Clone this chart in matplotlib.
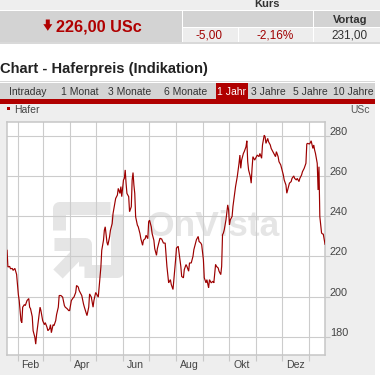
import numpy as np
import matplotlib
matplotlib.use("Agg")
import matplotlib.pyplot as plt
import matplotlib.dates as mdates
from matplotlib.patches import Rectangle, Polygon
from matplotlib.lines import Line2D
from matplotlib.transforms import Affine2D

# ---------------------------------------------------------------- data
start_date = np.datetime64("2013-01-01")

# calendar days after 1 Jan and oat price (US cents per bushel)
day_offsets = [
    18, 19, 21, 22, 24, 25, 27, 29, 31, 32, 34, 35, 36, 38, 39, 41, 43, 44, 45, 47,
    48, 50, 51, 52, 54, 56, 57, 59, 61, 62, 64, 65, 67, 68, 69, 71, 72, 74, 75, 77,
    78, 80, 82, 84, 85, 87, 89, 90, 92, 94, 95, 97, 98, 100, 101, 103, 104, 106, 107, 109,
    110, 112, 113, 115, 117, 118, 120, 121, 123, 124, 126, 127, 129, 130, 131, 133, 134, 136, 137, 139,
    140, 142, 143, 145, 146, 148, 149, 150, 152, 153, 154, 155, 156, 158, 159, 161, 162, 163, 164, 165,
    166, 168, 169, 171, 172, 174, 175, 177, 178, 180, 181, 182, 184, 185, 187, 188, 190, 191, 193,
    194, 196, 198, 200, 202, 203, 204, 206, 207, 209, 210, 212, 213, 215, 216, 218, 219, 221, 222, 224,
    225, 227, 228, 230, 232, 233, 235, 236, 238, 239, 241, 242, 244, 245, 247, 248, 250, 251, 253, 255,
    256, 258, 259, 261, 262, 264, 265, 266, 267, 268, 270, 272, 273, 274, 275, 277, 278, 280, 281, 283,
    285, 286, 287, 288, 289, 290, 291, 293, 294, 295, 296, 298, 299, 300, 301, 303, 305, 306, 308, 309,
    311, 312, 314, 315, 316, 318, 319, 321, 322, 324, 325, 327, 328, 330, 331, 333, 334, 336, 337, 339,
    340, 342, 343, 345, 346, 348, 349, 351, 352, 354, 355, 357, 358, 360, 362, 363, 364, 366, 367, 368,
    370, 371, 372, 373, 375, 376, 377, 378, 380, 381, 382, 384,
]
hafer_usc = [
    223.0, 214.7, 215.0, 213.8, 214.0, 213.0, 214.0, 211.0, 201.0, 198.0, 188.0, 187.0, 194.7, 196.0, 195.5, 198.0, 199.0, 194.7, 194.0, 190.0,
    183.0, 179.7, 176.3, 181.0, 188.0, 194.7, 193.0, 188.0, 186.0, 187.0, 184.7, 183.0, 184.0, 186.0, 182.0, 186.0, 185.5, 188.0, 191.0, 194.7,
    200.5, 200.5, 199.7, 195.5, 194.7, 194.0, 193.0, 193.0, 198.0, 199.3, 199.7, 202.0, 205.5, 204.7, 203.0, 201.3, 200.5, 196.3, 194.7, 192.0,
    190.5, 194.7, 201.3, 199.7, 194.7, 198.0, 202.0, 201.3, 199.7, 204.7, 214.7, 223.0, 228.0, 233.0, 234.7, 227.0, 225.5, 229.7, 233.0, 236.3,
    241.3, 246.3, 248.8, 250.5, 253.8, 251.3, 254.7, 249.7, 258.0, 258.8, 263.0, 256.3, 251.3, 249.7, 242.2, 244.7, 258.0, 261.7, 255.5, 251.3,
    239.7, 235.5, 234.7, 231.3, 228.8, 225.5, 228.0, 228.8, 230.5, 228.8, 237.2, 238.0, 234.7, 231.3, 228.0, 223.8, 220.5, 223.8, 227.2,
    229.0, 228.6, 226.6, 226.6, 215.0, 211.0, 206.8, 208.4, 206.0, 203.5, 208.4, 218.3, 224.1, 225.0, 221.7, 215.0, 210.0, 209.3, 213.4, 215.9,
    215.0, 212.6, 216.7, 216.7, 220.0, 223.3, 226.6, 228.3, 229.9, 227.4, 226.6, 225.8, 218.3, 209.3, 206.8, 208.4, 204.3, 208.4, 206.8, 207.6,
    206.8, 215.9, 215.0, 214.2, 212.6, 210.9, 215.0, 230.7, 231.6, 233.2, 238.2, 245.6, 243.1, 235.7, 238.2, 239.8, 244.8, 251.4, 254.7, 259.7,
    266.3, 270.4, 263.8, 267.9, 269.6, 271.2, 272.1, 274.5, 277.5, 267.1, 263.0, 259.7, 256.4, 263.8, 269.6, 267.9, 269.6, 270.4, 269.6, 271.2,
    268.8, 275.4, 280.3, 279.5, 276.2, 278.7, 277.0, 275.4, 273.7, 272.1, 271.2, 269.6, 272.1, 269.6, 267.1, 265.5, 263.8, 260.5, 258.0, 255.5,
    251.4, 254.7, 256.4, 257.2, 258.8, 260.0, 258.8, 258.0, 258.8, 257.2, 258.8, 260.5, 262.1, 263.8, 266.3, 275.9, 276.2, 275.9, 276.5, 277.5,
    273.7, 275.4, 272.9, 271.2, 266.3, 253.0, 264.6, 239.8, 231.6, 231.2, 231.0, 226.0,
]

y_ticks = [180, 200, 220, 240, 260, 280]
month_names = ["Jan", "Feb", "Mär", "Apr", "Mai", "Jun",
               "Jul", "Aug", "Sep", "Okt", "Nov", "Dez"]
labelled_months = ["Feb", "Apr", "Jun", "Aug", "Okt", "Dez"]

tab_names = ["Intraday", "1 Monat", "3 Monate", "6 Monate",
             "1 Jahr", "3 Jahre", "5 Jahre", "10 Jahre"]
active_tab = "1 Jahr"

series_name = "Hafer"
unit = "USc"
title = "Chart - Haferpreis (Indikation)"
last_price = hafer_usc[-1]
prev_close = hafer_usc[-2]

# ---------------------------------------------------------------- layout
W, H = 380, 375
plt.rcParams["font.family"] = ["Liberation Sans", "DejaVu Sans"]

RED = "#b00000"
LINE_RED = "#9c0000"
DARK = "#333333"


def de(v, nd=2):
    """German number format with decimal comma."""
    return f"{v:.{nd}f}".replace(".", ",")


fig = plt.figure(figsize=(W / 100, H / 100), dpi=100)
fig.patch.set_facecolor("white")

# page pixels (origin top-left) -> figure coordinates
pix = Affine2D().scale(1 / W, -1 / H).translate(0, 1) + fig.transFigure


def box(x0, y0, x1, y1, color, z=-1):
    fig.add_artist(Rectangle((x0, y0), x1 - x0, y1 - y0, transform=pix,
                             facecolor=color, edgecolor="none", zorder=z))


def label(x, y, s, **kw):
    kw.setdefault("va", "baseline")
    kw.setdefault("color", DARK)
    fig.text(x, y, s, transform=pix, **kw)


# quote table
box(0, 0, W, 10, "#eeeeee")
box(0, 11, 182, 42, "#d3d3d3")
box(183, 11, 313, 26.5, "#d3d3d3")
box(314, 11, W, 26.5, "#d3d3d3")
box(183, 27.5, 238, 42, "#ededed")
box(239, 27.5, 313, 42, "#ededed")
box(314, 27.5, W, 42, "#ededed")
box(0, 42, W, 43.5, "#d9d9d9")

label(267, 7.3, "Kurs", ha="center", fontsize=8, weight="bold")
fig.add_artist(Polygon([(45.8, 19.5), (49.8, 19.5), (49.8, 24.2), (52.3, 24.2),
                        (47.8, 30.8), (43.3, 24.2), (45.8, 24.2)],
                       closed=True, transform=pix, facecolor=RED,
                       edgecolor="none"))
label(56.5, 31.7, f"{de(last_price)} {unit}", ha="left", fontsize=11.7,
      weight="bold", color=RED)
label(350, 22.7, "Vortag", ha="center", fontsize=8, weight="bold")
change = last_price - prev_close
label(209, 38.3, de(change), ha="center", fontsize=8.5, color="#a00000")
label(275, 38.3, de(change / prev_close * 100) + "%", ha="center",
      fontsize=8.5, color="#a00000")
label(350, 38.3, de(prev_close), ha="center", fontsize=8.5, color=DARK)

# heading and period tabs
label(0, 72.7, title, ha="left", fontsize=10.6, weight="bold", color="#222222")
box(0, 81, 375, 82, "#d8d8d8")
box(0, 83, 375, 99, "#d4d4d4")
tab_centres = [28, 80, 130, 186, 231.7, 268, 310.5, 353.3]
for name, cx in zip(tab_names, tab_centres):
    if name == active_tab:
        box(216, 83, 247.5, 99, RED)
    label(cx, 95, name, ha="center", fontsize=7.5,
          color="white" if name == active_tab else DARK)
box(0, 99, 375, 104, RED)

# chart panel
box(0, 104, 375, H, "#eeeeee", z=-2)
box(6.7, 107.3, 9.5, 110.3, RED)
label(13.7, 113.3, series_name, ha="left", fontsize=7.5, color="#444444")
label(370, 113.3, unit, ha="right", fontsize=7.5, color="#555555")

ax = fig.add_axes([6.7 / W, 1 - 355 / H, (325.3 - 6.7) / W, (355 - 122.3) / H])
ax.set_facecolor("white")

dates = start_date + np.array(day_offsets).astype("timedelta64[D]")
x = mdates.date2num(dates)
ax.plot(x, hafer_usc, color=LINE_RED, lw=0.85, zorder=3,
        solid_joinstyle="miter")

x0 = mdates.date2num(start_date) + 17.6
x1 = mdates.date2num(start_date) + 384.3
ax.set_xlim(x0, x1)
ax.set_ylim(170.9, 286.7)

month_starts = np.arange(np.datetime64("2013-02"), np.datetime64("2014-02"),
                         dtype="datetime64[M]")
starts_num = mdates.date2num(month_starts.astype("datetime64[D]"))
ends_num = mdates.date2num((month_starts + 1).astype("datetime64[D]"))
ax.set_xticks(starts_num)
ax.set_yticks(y_ticks)
ax.tick_params(axis="x", which="both", length=4, width=0.8, color="#c8c8c8",
               labelbottom=False, direction="out")
ax.yaxis.tick_right()
ax.tick_params(axis="y", length=3.5, width=0.8, color="#c8c8c8",
               labelright=False, direction="out")
ax.grid(True, color="#cccccc", lw=0.8)
for s in ax.spines.values():
    s.set_color("#c6c6c6")
    s.set_linewidth(1.1)

for m, a, b in zip(month_starts, starts_num, ends_num):
    name = month_names[int(str(m)[5:7]) - 1]
    if name in labelled_months:
        ax.annotate(name, xy=((a + b) / 2, 0), xycoords=("data", "axes fraction"),
                    xytext=(0, -13), textcoords="offset pixels",
                    ha="center", va="baseline", fontsize=7.6, color="#444444",
                    annotation_clip=False)
for v in y_ticks:
    ax.annotate(str(v), xy=(1, v), xycoords=("axes fraction", "data"),
                xytext=(4.7, 1), textcoords="offset pixels",
                ha="left", va="baseline", fontsize=7.8, color="#444444",
                annotation_clip=False)

# faint OnVista watermark behind the grid
wm = "#e5e5e5"
wlw = 13 * 0.72
for xs, ys in [([58.5, 58.5, 110], [230, 208, 208]),
               ([84, 117, 117], [270.5, 270.5, 214]),
               ([54, 85, 85], [244, 244, 266]),
               ([58, 84], [274, 247])]:
    ax.add_line(Line2D(xs, ys, transform=pix, color=wm, lw=wlw,
                       solid_capstyle="butt", solid_joinstyle="round", zorder=1))
ax.text(147, 235.5, "OnVista", transform=pix, fontsize=25.5, weight="bold",
        color=wm, va="baseline", ha="left", zorder=1)

fig.savefig("out.png", dpi=100, facecolor="white")
